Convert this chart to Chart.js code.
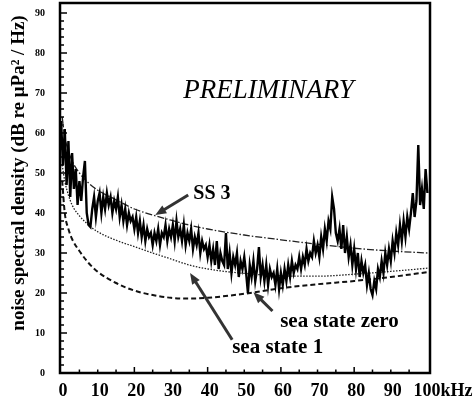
<!DOCTYPE html>
<html>
<head>
<meta charset="utf-8">
<script src="https://cdn.jsdelivr.net/npm/chart.js@4.4.0/dist/chart.umd.min.js"></script>
<style>
    html, body { margin: 0; padding: 0; background: #fff; }
</style>
</head>
<body>
<canvas id="noiseChart" width="474" height="402"></canvas>
<script>
// spectrum bins, 0.5 kHz apart, starting at 0 kHz
const freqStep = 0.5;
const measured = [
    63, 52, 61, 47, 58, 44, 55, 46, 51, 42, 48,
    43, 49, 53, 40, 37, 36.5, 41, 44, 39, 43,
    45, 40, 44, 41, 45, 42, 44, 40, 43, 41,
    44, 39, 42, 38, 41, 37, 40, 38, 39, 36,
    39, 35, 38, 34, 37, 33, 36, 34, 35, 32,
    35, 33, 36, 32, 35, 34, 37, 33, 36, 34,
    37, 33, 38, 34, 36, 33, 37, 32, 35, 33,
    36, 31, 34, 32, 35, 30, 33, 31, 32, 29,
    32, 28, 31, 27, 33, 26, 30, 28, 27, 35,
    26, 30, 25, 29, 27, 30, 24, 28, 26, 29,
    25, 20, 27, 24, 28, 23, 26, 31.5, 24, 27,
    23, 27, 22, 26, 24, 25, 22, 26, 21, 25,
    22, 26, 23, 27, 24, 28, 25, 27, 26, 29,
    26, 29, 27, 31, 28, 30, 29, 33, 30, 32,
    29, 34, 31, 36, 33, 38, 36, 44, 41, 35,
    33, 36, 31, 37, 30, 34, 29, 32, 27, 31,
    26, 30, 24, 28, 25, 27, 22, 25, 21, 19.5,
    23, 21, 26, 24, 28, 25, 30, 27, 31, 28,
    33, 30, 35, 32, 37, 33, 38, 34, 39, 36,
    40, 45, 39, 43, 57, 42, 46, 41, 51, 45
];

// model curves
const curveFreq    = [0.3, 1, 2, 3, 5, 7.5, 10, 15, 20, 25, 30, 35, 40, 50, 60, 70, 80, 90, 100];
const seaState3    = [64, 59, 55.5, 53, 50, 47.5, 45.7, 43.3, 41, 39.5, 38.2, 37, 36, 34.5, 33.3, 32.2, 31.2, 30.5, 30];
const seaState1    = [52, 48, 44.5, 42, 39.3, 37, 35.3, 33.2, 31.6, 30, 28.5, 27, 26, 24.9, 24.3, 24.2, 24.7, 25.4, 26.2];
const seaStateZero = [48, 40, 36, 33.5, 30.5, 27.5, 25.3, 22.5, 20.6, 19.5, 18.8, 18.6, 18.8, 19.8, 21.2, 22.2, 23, 24, 25.2];

const xTicks = [0, 10, 20, 30, 40, 50, 60, 70, 80, 90, 100];
const yTicks = [0, 10, 20, 30, 40, 50, 60, 70, 80, 90];

const serif = "'Liberation Serif', 'DejaVu Serif', serif";

function toPoints(xs, ys) {
    return ys.map((y, i) => ({x: xs[i], y: y}));
}

const frameAndTicks = {
    id: "frameAndTicks",
    afterDatasetsDraw(chart) {
        const {ctx, chartArea: a, scales: {x, y}} = chart;
        ctx.save();
        ctx.strokeStyle = "#000";
        // inner ticks, x every 5 kHz, y every 2 dB
        ctx.lineWidth = 1.5;
        ctx.beginPath();
        for (let v = 5; v < 100; v += 5) {
            const px = x.getPixelForValue(v);
            const len = v % 20 === 0 ? 6 : 3.5;
            ctx.moveTo(px, a.bottom);
            ctx.lineTo(px, a.bottom - len);
        }
        for (let v = 2; v < 92; v += 2) {
            const py = y.getPixelForValue(v);
            const len = v % 10 === 0 ? 7 : 4;
            ctx.moveTo(a.left, py);
            ctx.lineTo(a.left + len, py);
        }
        ctx.stroke();
        ctx.lineWidth = 2.5;
        ctx.strokeRect(a.left, a.top, a.right - a.left, a.bottom - a.top);
        ctx.restore();
    }
};

function arrow(ctx, x0, y0, x1, y1) {
    const ang = Math.atan2(y1 - y0, x1 - x0);
    const head = 11;
    ctx.beginPath();
    ctx.moveTo(x0, y0);
    ctx.lineTo(x1 - Math.cos(ang) * head * 0.8, y1 - Math.sin(ang) * head * 0.8);
    ctx.stroke();
    ctx.beginPath();
    ctx.moveTo(x1, y1);
    ctx.lineTo(x1 - head * Math.cos(ang) + 4.5 * Math.sin(ang), y1 - head * Math.sin(ang) - 4.5 * Math.cos(ang));
    ctx.lineTo(x1 - head * Math.cos(ang) - 4.5 * Math.sin(ang), y1 - head * Math.sin(ang) + 4.5 * Math.cos(ang));
    ctx.closePath();
    ctx.fill();
}

const notes = {
    id: "notes",
    afterDraw(chart) {
        const {ctx, scales: {x, y}} = chart;
        const X = v => x.getPixelForValue(v);
        const Y = v => y.getPixelForValue(v);
        ctx.save();
        ctx.fillStyle = "#000";
        ctx.textBaseline = "alphabetic";

        ctx.font = "italic 27px " + serif;
        ctx.textAlign = "center";
        ctx.fillText("PRELIMINARY", X(56.6), Y(68.8));

        ctx.textAlign = "left";
        ctx.font = "bold 20px " + serif;
        ctx.fillText("SS 3", X(36.1), Y(43.6));
        ctx.font = "bold 21px " + serif;
        ctx.fillText("sea state zero", X(59.8), Y(11.6));
        ctx.fillText("sea state 1", X(46.7), Y(5));

        ctx.strokeStyle = "#333";
        ctx.fillStyle = "#333";
        ctx.lineWidth = 3;
        arrow(ctx, X(34.7), Y(44.5), X(25.7), Y(39.5));
        arrow(ctx, X(57.7), Y(15.5), X(52.5), Y(20.2));
        arrow(ctx, X(46.7), Y(8.3), X(35.2), Y(25));

        // y axis title
        ctx.fillStyle = "#000";
        ctx.font = "bold 19px " + serif;
        ctx.translate(19, Y(50));
        ctx.rotate(-Math.PI / 2);
        ctx.textAlign = "center";
        ctx.textBaseline = "middle";
        ctx.fillText("noise spectral density (dB re \u03bcPa\u00b2 / Hz)", 0, 0);
        ctx.restore();
    }
};

const ctx = document.getElementById("noiseChart").getContext("2d");

const data = {
    datasets: [
        {
            data: measured.map((v, i) => ({x: i * freqStep, y: v})),
            borderColor: "#000",
            borderWidth: 2.4,
            pointRadius: 0,
            showLine: true
        },
        {
            data: toPoints(curveFreq, seaState3),
            borderColor: "#222",
            borderWidth: 1.3,
            borderDash: [7, 2, 1.5, 2],
            pointRadius: 0,
            showLine: true,
            cubicInterpolationMode: "monotone"
        },
        {
            data: toPoints(curveFreq, seaState1),
            borderColor: "#222",
            borderWidth: 1.3,
            borderDash: [1.5, 1.5],
            pointRadius: 0,
            showLine: true,
            cubicInterpolationMode: "monotone"
        },
        {
            data: toPoints(curveFreq, seaStateZero),
            borderColor: "#111",
            borderWidth: 2,
            borderDash: [5, 3],
            pointRadius: 0,
            showLine: true,
            cubicInterpolationMode: "monotone"
        }
    ]
};

const config = {
    type: "scatter",
    data: data,
    options: {
        responsive: false,
        animation: false,
        devicePixelRatio: 1,
        layout: {padding: {left: 0, right: 44, top: 3, bottom: 0}},
        plugins: {legend: {display: false}, tooltip: {enabled: false}},
        scales: {
            x: {
                type: "linear",
                min: -0.3,
                max: 100.7,
                grid: {display: false, drawTicks: false},
                border: {display: false},
                afterBuildTicks: scale => { scale.ticks = xTicks.map(v => ({value: v})); },
                afterFit: scale => {
                    scale.height = 29;
                    scale.paddingLeft = 0;
                    scale.paddingRight = 0;
                },
                ticks: {
                    autoSkip: false,
                    maxRotation: 0,
                    minRotation: 0,
                    padding: 8,
                    labelOffset: 2,
                    color: "#000",
                    font: {family: serif, size: 18, weight: "bold"},
                    callback: v => v === 100 ? "      100kHz" : String(v)
                }
            },
            y: {
                type: "linear",
                min: 0,
                max: 92.5,
                grid: {display: false, drawTicks: false},
                border: {display: false},
                afterBuildTicks: scale => { scale.ticks = yTicks.map(v => ({value: v})); },
                afterFit: scale => {
                    scale.width = 60;
                    scale.paddingTop = 0;
                    scale.paddingBottom = 0;
                },
                ticks: {
                    padding: 15,
                    color: "#000",
                    font: {family: serif, size: 10, weight: "bold"}
                }
            }
        }
    },
    plugins: [frameAndTicks, notes]
};

let noiseChart = new Chart(ctx, config);
</script>
</body>
</html>
